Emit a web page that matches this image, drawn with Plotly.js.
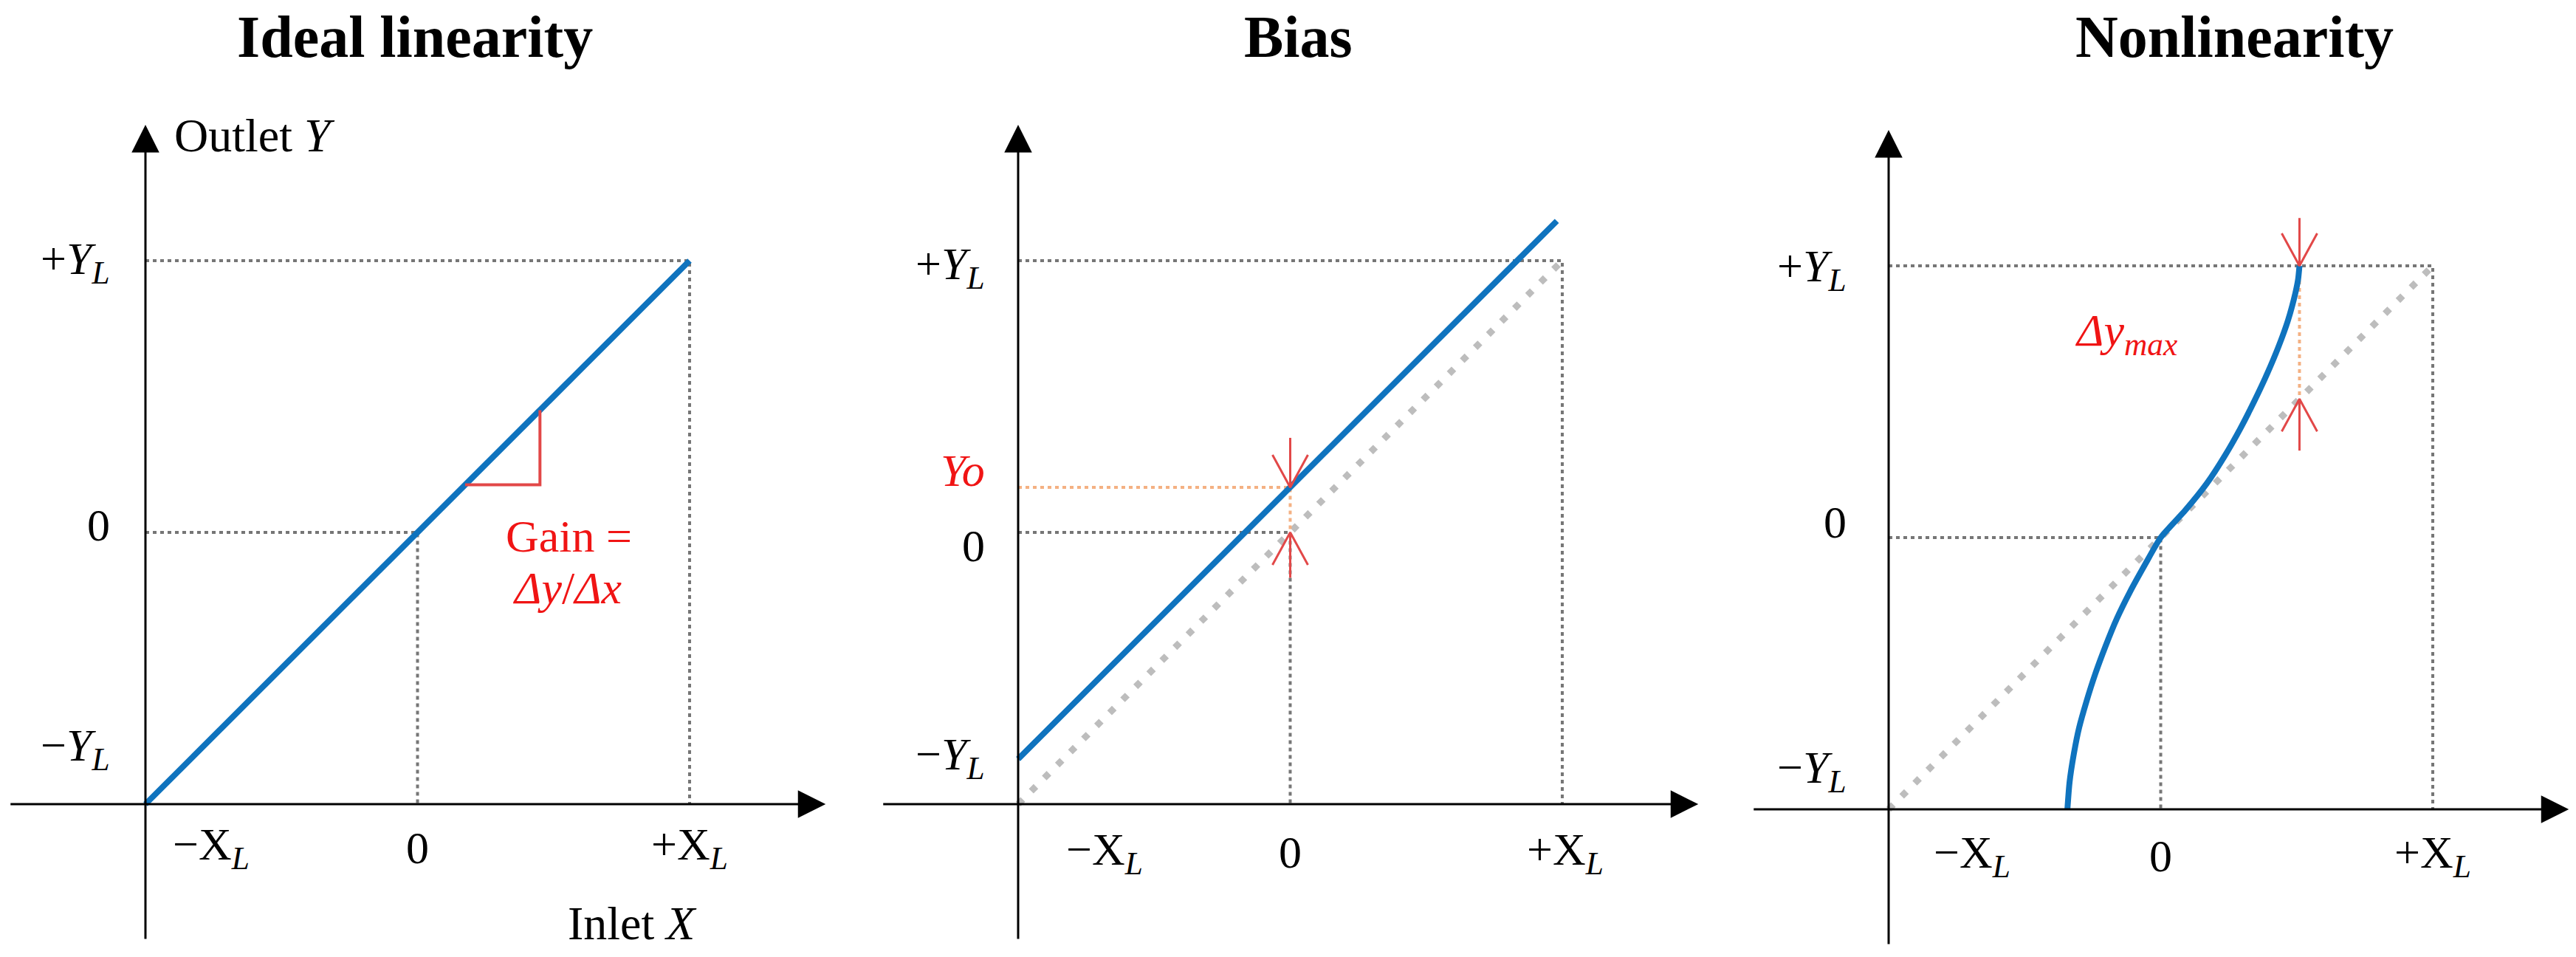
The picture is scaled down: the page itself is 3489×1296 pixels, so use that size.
<!DOCTYPE html>
<html>
<head>
<meta charset="utf-8">
<script src="https://cdn.plot.ly/plotly-3.0.1.min.js"></script>
<style>
  html, body { margin: 0; padding: 0; background: #fff; }
  #chart { width: 3489px; height: 1296px; }
</style>
</head>
<body>
<div id="chart"></div>
<script>
// ---- data (units of X_L / Y_L) ----
var panelTitles = ['Ideal linearity', 'Bias', 'Nonlinearity'];
var tickPos = [-1, 0, 1];
var xTickText = ['\u2212X<sub><i>L</i></sub>', '0', '+X<sub><i>L</i></sub>'];
var yTickText = ['\u2212<i>Y</i><sub><i>L</i></sub>', '0', '+<i>Y</i><sub><i>L</i></sub>'];

// reference (ideal) straight line
var idealX = [-1, 1];
var idealY = [-1, 1];

// bias: shifted line
var biasOffset = 0.166;
var biasX = [-1, 0.98];
var biasY = [-0.834, 1.146];

// nonlinearity curve
var nonlinY = [-1.0, -0.9, -0.8, -0.7, -0.6, -0.5, -0.4, -0.3, -0.2, -0.1, 0.0,
               0.1, 0.2, 0.3, 0.4, 0.5, 0.6, 0.7, 0.8, 0.9, 0.95, 1.0];
var nonlinX = [-0.343, -0.335, -0.32, -0.30, -0.272, -0.24, -0.203, -0.162, -0.113, -0.058, 0.0,
               0.09, 0.17, 0.235, 0.292, 0.343, 0.39, 0.432, 0.468, 0.495, 0.505, 0.51];

// gain triangle (on the ideal line)
var gainX = [0.175, 0.45];

// ---- styles ----
var BLUE = '#0f73be', GREY = '#767676', LIGHT = '#bdbdbd', ORANGE = '#f4b183';
var RED = '#e24848', TXTRED = '#f01414';
var FONT = 'Liberation Serif, Times New Roman, serif';
var UX = 368.5, UY = 368;          // px per unit
var ARW_DX = 24 / UX, ARW_DY = 44 / UY;

var xDom = [[0.003654, 0.32051], [0.34243, 0.65928], [0.68036, 0.99721]];
var yDom = [[0.017747, 0.869599], [0.017747, 0.869599], [0.012346, 0.864198]];

// label placement per panel
var lab = [
  {yTickY: [-0.794, 0.027, 0.995], yTickX: -1.125, xTickX: [-0.758, 0, 1.0], xTickY: -1.16, titleX: -0.01},
  {yTickY: [-0.828, -0.048, 0.978], yTickX: -1.117, xTickX: [-0.683, 0, 1.012], xTickY: -1.177, titleX: 0.03},
  {yTickY: [-0.858, 0.056, 0.989], yTickX: -1.148, xTickX: [-0.693, 0, 1.0], xTickY: -1.17, titleX: 0.27}
];

function axName(i, c) { return c + (i ? i + 1 : ''); }

var traces = [];
var annotations = [];

function line(i, x, y, color, width, dash, shape) {
  var ln = {color: color, width: width, dash: dash || 'solid', shape: shape || 'linear'};
  if (shape === 'spline') ln.smoothing = 0.6;
  traces.push({
    type: 'scatter', mode: 'lines', x: x, y: y,
    xaxis: axName(i, 'x'), yaxis: axName(i, 'y'),
    line: ln, hoverinfo: 'skip', cliponaxis: false
  });
}

// open red arrow: shaft from tail to tip plus V head
function redArrow(i, x, tip, tail) {
  var s = tail > tip ? 1 : -1;
  line(i, [x, x, null, x - ARW_DX, x, x + ARW_DX],
          [tail, tip, null, tip + s * ARW_DY, tip, tip + s * ARW_DY], RED, 3);
}

function text(i, x, y, t, opts) {
  var a = {
    xref: axName(i, 'x'), yref: axName(i, 'y'), x: x, y: y, text: t,
    showarrow: false, xanchor: 'center', yanchor: 'middle',
    font: {family: FONT, size: 62, color: '#000'}
  };
  for (var k in opts) a[k] = opts[k];
  annotations.push(a);
}

for (var i = 0; i < 3; i++) {
  // dotted guides
  line(i, [-1, tickPos[2], tickPos[2]], [tickPos[2], tickPos[2], -1], GREY, 4, '5px,5px');
  line(i, [-1, tickPos[1], tickPos[1]], [tickPos[1], tickPos[1], -1], GREY, 4, '5px,5px');
  if (i > 0) line(i, idealX, idealY, LIGHT, 9, '9px,16px');

  // axes with arrow heads
  annotations.push({xref: axName(i, 'x'), yref: axName(i, 'y'), axref: axName(i, 'x'), ayref: axName(i, 'y'),
    x: 1.5, y: -1, ax: -1.5, ay: -1, text: '', showarrow: true,
    arrowhead: 2, arrowsize: 2.5, arrowwidth: 3, arrowcolor: '#000'});
  annotations.push({xref: axName(i, 'x'), yref: axName(i, 'y'), axref: axName(i, 'x'), ayref: axName(i, 'y'),
    x: -1, y: 1.5, ax: -1, ay: -1.5, text: '', showarrow: true,
    arrowhead: 2, arrowsize: 2.5, arrowwidth: 3, arrowcolor: '#000'});

  // tick labels
  for (var k = 0; k < 3; k++) {
    text(i, lab[i].xTickX[k], lab[i].xTickY, xTickText[k]);
    text(i, lab[i].yTickX, lab[i].yTickY[k], yTickText[k], {xanchor: 'right'});
  }
  // panel title
  annotations.push({xref: axName(i, 'x'), yref: 'paper', x: lab[i].titleX, y: 0.9614,
    text: '<b>' + panelTitles[i] + '</b>', showarrow: false, xanchor: 'center', yanchor: 'middle',
    font: {family: FONT, size: 80, color: '#000'}});
}

// panel 1: ideal linearity
line(0, idealX, idealY, BLUE, 8);
line(0, [gainX[0], gainX[1], gainX[1]], [gainX[0], gainX[0], gainX[1]], RED, 4);
text(0, 0.557, -0.014, 'Gain =', {font: {family: FONT, size: 62, color: TXTRED}});
text(0, 0.552, -0.204, '<i>\u0394y</i>/<i>\u0394x</i>', {font: {family: FONT, size: 62, color: TXTRED}});
text(0, -0.9, 1.46, 'Outlet <i>Y</i>', {xanchor: 'left', font: {family: FONT, size: 64, color: '#000'}});
text(0, 0.79, -1.44, 'Inlet <i>X</i>', {font: {family: FONT, size: 64, color: '#000'}});

// panel 2: bias
line(1, [-1, 0, 0], [biasOffset, biasOffset, 0], ORANGE, 4, '5px,5px');
line(1, biasX, biasY, BLUE, 8);
redArrow(1, 0, biasOffset, 0.348);
redArrow(1, 0, 0, -0.167);
text(1, lab[1].yTickX, 0.228, '<i>Yo</i>', {xanchor: 'right', font: {family: FONT, size: 62, color: TXTRED}});

// panel 3: nonlinearity
var topX = nonlinX[nonlinX.length - 1], topY = nonlinY[nonlinY.length - 1];
line(2, [topX, topX], [topY, topX], ORANGE, 4, '5px,5px');
line(2, nonlinX, nonlinY, BLUE, 8, 'solid', 'spline');
redArrow(2, topX, topY, 1.176);
redArrow(2, topX, topX, 0.32);
text(2, -0.127, 0.75, '<i>\u0394y<sub>max</sub></i>', {font: {family: FONT, size: 62, color: TXTRED}});

var layout = {
  width: 3489, height: 1296,
  margin: {l: 0, r: 0, t: 0, b: 0},
  paper_bgcolor: '#fff', plot_bgcolor: '#fff',
  showlegend: false,
  font: {family: FONT, color: '#000'},
  annotations: annotations
};
for (var j = 0; j < 3; j++) {
  layout[axName(j, 'xaxis')] = {domain: xDom[j], range: [-1.5, 1.5], visible: false,
    fixedrange: true, anchor: axName(j, 'y')};
  layout[axName(j, 'yaxis')] = {domain: yDom[j], range: [-1.5, 1.5], visible: false,
    fixedrange: true, anchor: axName(j, 'x')};
}

Plotly.newPlot('chart', traces, layout, {staticPlot: true});
</script>
</body>
</html>
